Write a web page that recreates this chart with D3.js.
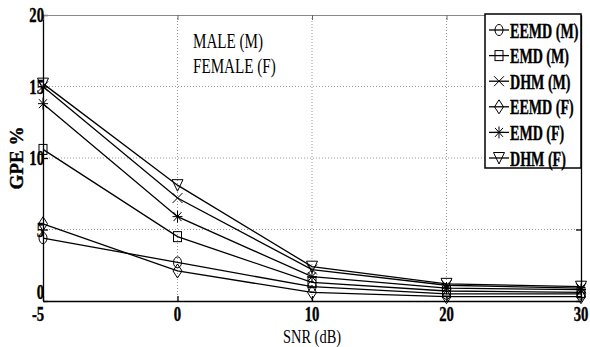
<!DOCTYPE html>
<html><head><meta charset="utf-8">
<script src="https://cdn.jsdelivr.net/npm/d3@7"></script>
<style>body{margin:0;background:#fff}svg{display:block}</style>
</head><body>
<svg id="c" width="590" height="347"></svg>
<script>
const snrLabels = ["-5","0","10","20","30"];
const yTicks = [0,5,10,15,20];
const seriesNames = ["EEMD (M)","EMD (M)","DHM (M)","EEMD (F)","EMD (F)","DHM (F)"];
const seriesMarkers = ["circle","square","x","diamond","star","triangle"];
const eemdM = [4.4, 2.7, 1.0, 0.5, 0.5];
const emdM  = [10.6, 4.5, 1.3, 0.7, 0.6];
const dhmM  = [15.0, 7.2, 2.2, 1.1, 0.9];
const eemdF = [5.4, 2.1, 0.6, 0.3, 0.3];
const emdF  = [13.8, 5.9, 1.7, 0.9, 0.8];
const dhmF  = [15.2, 8.1, 2.4, 1.2, 1.0];
const seriesValues = [eemdM, emdM, dhmM, eemdF, emdF, dhmF];

const svg = d3.select("#c");
const L=43, R=581, T=15, B=301;
const x = d3.scalePoint().domain(snrLabels).range([L,R]);
const y = d3.scaleLinear().domain([0,20]).range([B,T]);
const serif = "'Liberation Serif','Times New Roman',serif";

function label(g, txt, px, py, opts){
  opts = opts||{};
  const sx = opts.sx||0.7;
  return g.append("g").attr("transform",`translate(${px},${py})${opts.rot?` rotate(${opts.rot})`:""} scale(${sx},1)`)
    .append("text").text(txt)
    .attr("font-family", serif)
    .attr("font-size", opts.size||20)
    .attr("font-weight", opts.bold?"bold":"normal")
    .attr("text-anchor", opts.anchor||"start")
    .attr("fill","#000")
    .attr("stroke", opts.bold?"#000":"none")
    .attr("stroke-width", opts.bold?0.4:0);
}

// grid
const grid = svg.append("g");
snrLabels.slice(1,4).forEach(d=>{
  grid.append("line").attr("x1",x(d)).attr("x2",x(d)).attr("y1",T).attr("y2",B)
    .attr("stroke","#999").attr("stroke-width",1).attr("stroke-dasharray","1,2");
});
yTicks.slice(1,4).forEach(v=>{
  grid.append("line").attr("x1",L).attr("x2",R).attr("y1",y(v)).attr("y2",y(v))
    .attr("stroke","#999").attr("stroke-width",1).attr("stroke-dasharray","1,2");
});

// axes via d3
const xAxis = svg.append("g").attr("transform",`translate(0,${B})`)
  .call(d3.axisBottom(x).tickSizeInner(-5).tickSizeOuter(0).tickFormat(""));
const yAxis = svg.append("g").attr("transform",`translate(${L},0)`)
  .call(d3.axisLeft(y).tickValues(yTicks).tickSizeInner(-5).tickSizeOuter(0).tickFormat(""));
[xAxis,yAxis].forEach(a=>{a.selectAll("path,line").attr("stroke","#000").attr("stroke-width",1.3);});
const xTop = svg.append("g").attr("transform",`translate(0,${T})`)
  .call(d3.axisTop(x).tickSizeInner(-5).tickSizeOuter(0).tickFormat(""));
xTop.selectAll("path").attr("stroke","#888");
xTop.selectAll("line").attr("stroke","#666");
const yRight = svg.append("g").attr("transform",`translate(${R},0)`)
  .call(d3.axisRight(y).tickValues(yTicks).tickSizeInner(-5).tickSizeOuter(0).tickFormat(""));
yRight.selectAll("path,line").attr("stroke","#000").attr("stroke-width",1.3);

// tick labels
const labs = svg.append("g");
snrLabels.forEach((d,i)=> label(labs, d, x(d) - (i===0?5:0), 321, {bold:true, size:21, anchor:"middle", sx:0.7}));
yTicks.forEach(v=> label(labs, String(v), L+1, v===0 ? y(v)-2 : y(v)+7, {bold:true, size:21, anchor:"end", sx:0.7}));
label(labs, "SNR (dB)", (L+R)/2, 342.5, {size:19, anchor:"middle", sx:0.76});
label(labs, "GPE %", 23, (T+B)/2, {bold:true, size:19, anchor:"middle", rot:-90, sx:1});
label(labs, "MALE (M)", 193, 48, {size:21, sx:0.72});
label(labs, "FEMALE (F)", 193, 73, {size:21, sx:0.72});

// markers
function marker(g, type, cx, cy){
  const m = g.append("g").attr("transform",`translate(${cx},${cy})`)
    .attr("fill","none").attr("stroke","#000").attr("stroke-width",1);
  if(type==="circle") m.append("ellipse").attr("rx",4).attr("ry",5.5);
  else if(type==="square") m.append("rect").attr("x",-4).attr("y",-5).attr("width",8).attr("height",10);
  else if(type==="x") m.append("path").attr("d","M-5,-5L5,5M-5,5L5,-5");
  else if(type==="diamond") m.append("path").attr("d","M0,-7L4.5,0L0,7L-4.5,0Z");
  else if(type==="star") m.append("path").attr("d","M-5,0L5,0M0,-6L0,6M-4,-4.5L4,4.5M-4,4.5L4,-4.5");
  else if(type==="triangle") m.append("path").attr("d","M-5.5,-5.5L5.5,-5.5L0,6Z");
}

const line = d3.line().x((d,i)=>x(snrLabels[i])).y(d=>y(d));
const plot = svg.append("g");
seriesValues.forEach((vals,k)=>{
  plot.append("path").attr("d",line(vals)).attr("fill","none").attr("stroke","#000").attr("stroke-width",1.3);
  vals.forEach((v,i)=> marker(plot, seriesMarkers[k], x(snrLabels[i]), y(v)));
});

// legend
const lg = svg.append("g");
lg.append("rect").attr("x",485).attr("y",14).attr("width",96).attr("height",154)
  .attr("fill","#fff").attr("stroke","#000").attr("stroke-width",1.5);
seriesNames.forEach((n,k)=>{
  const cy = 30 + k*25.6;
  lg.append("line").attr("x1",489).attr("x2",509).attr("y1",cy).attr("y2",cy).attr("stroke","#000").attr("stroke-width",1.3);
  marker(lg, seriesMarkers[k], 499, cy);
  label(lg, n, 510, cy+7.5, {bold:true, size:22, sx:0.64});
});
</script>
</body></html>
